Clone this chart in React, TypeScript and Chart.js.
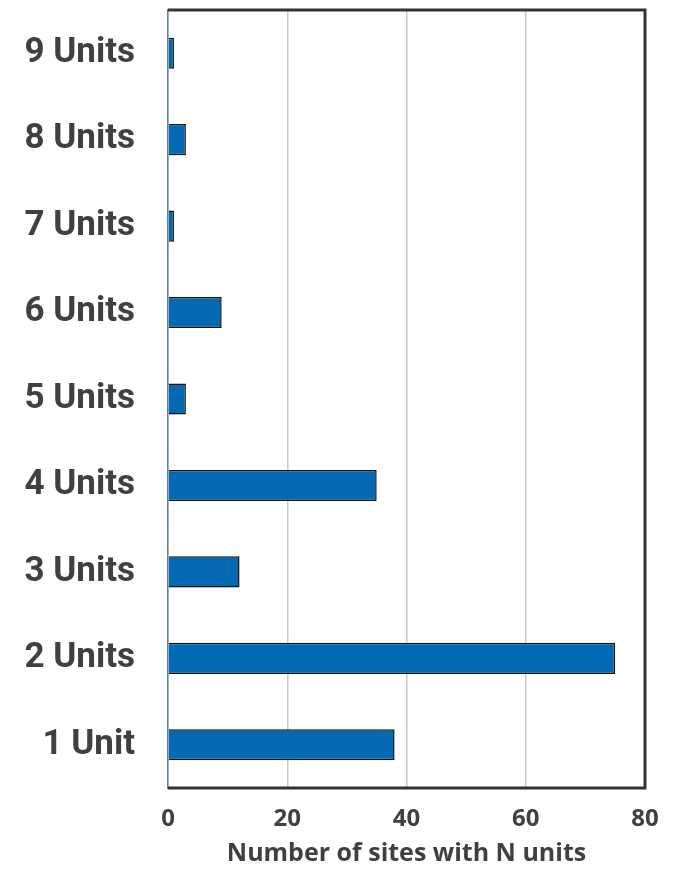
import React, { useEffect, useRef } from "react";
import { Chart, registerables } from "chart.js";

Chart.register(...registerables);

const categories = ["9 Units", "8 Units", "7 Units", "6 Units", "5 Units", "4 Units", "3 Units", "2 Units", "1 Unit"];
const siteCounts = [1, 3, 1, 9, 3, 35, 12, 75, 38];
const xTicks = [0, 20, 40, 60, 80];
const xTitle = "Number of sites with N units";

const framePlugin = {
  id: "frame",
  afterDraw(chart: any) {
    const { ctx, chartArea: a } = chart;
    ctx.save();
    ctx.strokeStyle = "#333333";
    ctx.lineWidth = 3;
    ctx.beginPath();
    ctx.moveTo(a.left, a.top);
    ctx.lineTo(a.right, a.top);
    ctx.lineTo(a.right, a.bottom);
    ctx.lineTo(a.left, a.bottom);
    ctx.stroke();
    ctx.restore();
  },
};

export default function App() {
  const ref = useRef<HTMLCanvasElement>(null);
  useEffect(() => {
    document.body.style.margin = "0";
    const chart = new Chart(ref.current!, {
      type: "bar",
      data: {
        labels: categories,
        datasets: [
          {
            data: siteCounts,
            backgroundColor: "#0369B3",
            borderColor: "#111111",
            borderWidth: 1.5,
            categoryPercentage: 1,
            barPercentage: 0.36,
          },
        ],
      },
      options: {
        indexAxis: "y",
        animation: false,
        responsive: false,
        layout: { padding: { top: 10, right: 28, left: 10, bottom: 1 } },
        plugins: { legend: { display: false }, tooltip: { enabled: false } },
        scales: {
          x: {
            min: 0,
            max: 80,
            afterBuildTicks: (s: any) => {
              s.ticks = xTicks.map((v) => ({ value: v }));
            },
            afterFit: (s: any) => {
              s.paddingLeft = 0;
              s.paddingRight = 0;
              s.height = 81;
            },
            grid: { color: "#c8c8c8", lineWidth: 1.5, drawTicks: false },
            border: { display: false },
            ticks: {
              color: "#404040",
              padding: 17,
              font: { family: "Open Sans", weight: "bold", size: 24 },
            },
            title: {
              display: true,
              text: xTitle,
              color: "#404040",
              padding: { top: 5, bottom: 0 },
              font: { family: "Open Sans", weight: "bold", size: 25 },
            },
          },
          y: {
            grid: { display: false, drawTicks: false },
            border: { display: true, color: "#5b7ea0", width: 1.5 },
            afterFit: (s: any) => {
              s.width = 158;
              s.paddingTop = 0;
              s.paddingBottom = 0;
            },
            ticks: {
              color: "#404040",
              padding: 33,
              font: { family: "Roboto", weight: "bold", size: 35 },
            },
          },
        },
      },
      plugins: [framePlugin],
    });
    return () => chart.destroy();
  }, []);
  return <canvas ref={ref} width={673} height={870} style={{ display: "block" }} />;
}
